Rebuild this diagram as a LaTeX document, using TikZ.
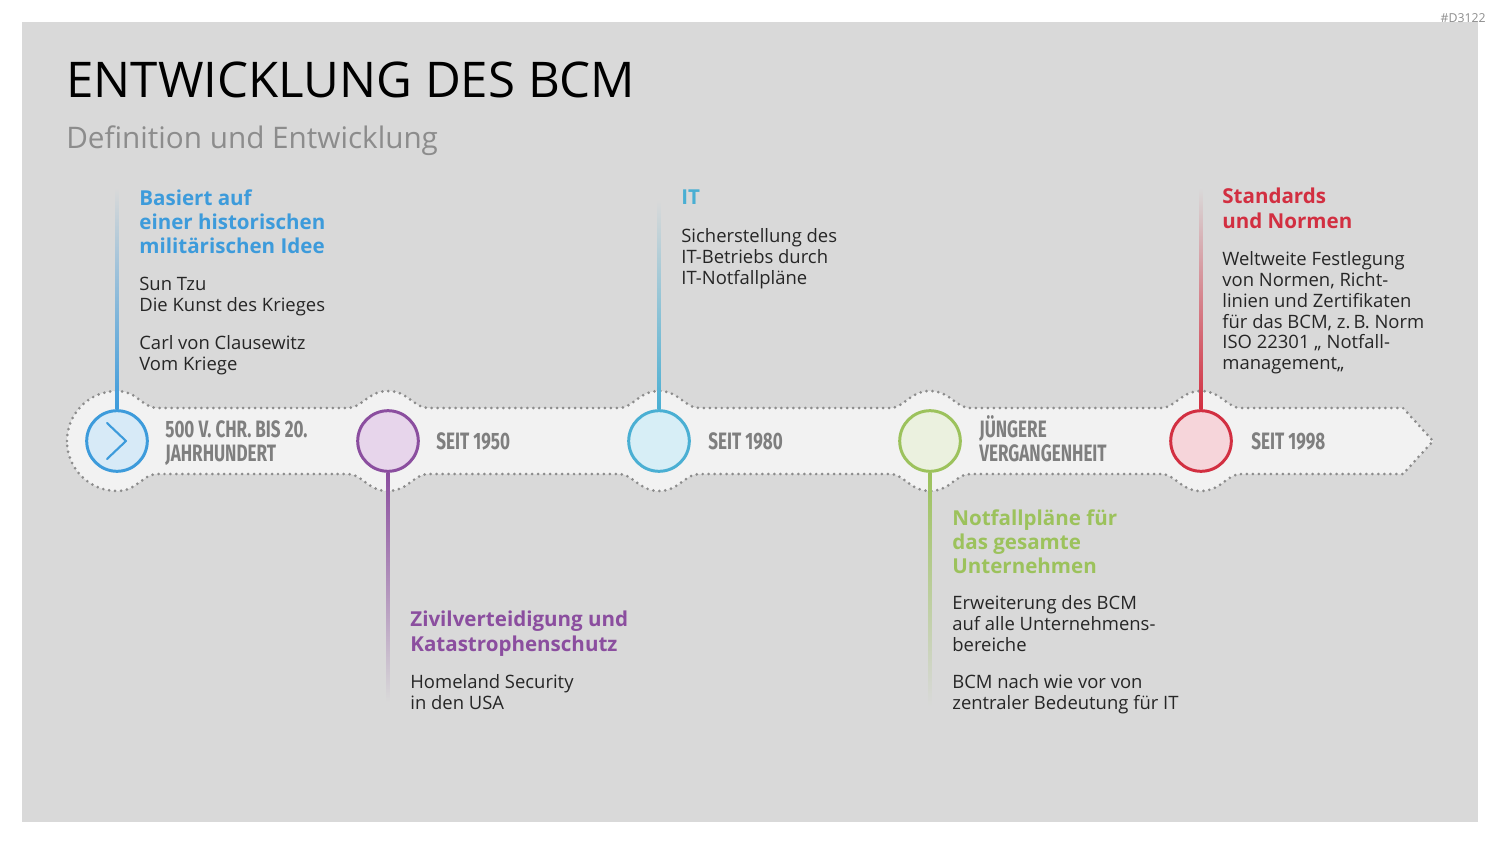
\documentclass[tikz,border=0pt]{standalone}
\usepackage{fontspec}
\setmainfont{Open Sans}
\newfontfamily\condfont[FakeStretch=0.72]{Fira Sans}
\usetikzlibrary{calc}
\definecolor{bgG}{HTML}{D9D9D9}
\definecolor{bandF}{HTML}{F2F2F2}
\definecolor{dotG}{HTML}{8C8C8C}
\definecolor{eraC}{HTML}{7F7F7F}
\definecolor{subC}{HTML}{8C8C8C}
\definecolor{bodyC}{HTML}{262626}
\definecolor{blueC}{HTML}{3D9BDB}
\definecolor{blueF}{HTML}{D7EAF7}
\definecolor{purpleC}{HTML}{8B4E9F}
\definecolor{purpleF}{HTML}{E7D5EB}
\definecolor{tealC}{HTML}{4AAFD3}
\definecolor{tealF}{HTML}{D7EEF6}
\definecolor{greenC}{HTML}{9CC25C}
\definecolor{greenF}{HTML}{EBF1DF}
\definecolor{redC}{HTML}{D22F41}
\definecolor{redF}{HTML}{F6D5DA}
\tikzset{
  body/.style={anchor=north west, inner sep=0pt, align=left, text=bodyC,
    font=\fontsize{10.5}{11.9}\selectfont},
  head/.style={anchor=north west, inner sep=0pt, align=left,
    font=\bfseries\fontsize{11.7}{13.8}\selectfont},
  era/.style={anchor=north west, inner sep=0pt, align=left, text=eraC,
    font=\condfont\bfseries\fontsize{13.5}{13.6}\selectfont},
  dotrim/.style={draw=dotG, line width=1.7pt, line cap=round, dash pattern=on 0pt off 3.4pt},
  stage/.style={circle, minimum size=34.5pt, inner sep=0pt, line width=1.7pt}
}
\begin{document}
\begin{tikzpicture}[x=0.02cm,y=-0.02cm]
\useasboundingbox (0,0) rectangle (1500,844);
\fill[bgG] (22,22) rectangle (1478,822);
\node[anchor=north east, inner sep=0pt, text=subC, font=\fontsize{7}{8}\selectfont] (tag) at (1486,13) {\#D3122};
% title
\node[anchor=north west, inner sep=0pt, font=\fontsize{28}{30}\selectfont] (title) at (66,62) {ENTWICKLUNG DES BCM};
\node[anchor=north west, inner sep=0pt, text=subC, font=\fontsize{16.9}{18}\selectfont] (subtitle) at (66,125) {Definition und Entwicklung};
% timeline band
\path[dotrim, fill=bandF]
  (67,441) .. controls (67,413.4) and (89.4,391) .. (117,391)
  .. controls (137,391) and (143,408) .. (157,408)
  \foreach \x in {388,659,930,1201} {
    -- (\x-40,408) .. controls (\x-26,408) and (\x-20,391) .. (\x,391)
    .. controls (\x+20,391) and (\x+26,408) .. (\x+40,408) }
  -- (1403,408) -- (1433,441) -- (1403,474)
  \foreach \x in {1201,930,659,388} {
    -- (\x+40,474) .. controls (\x+26,474) and (\x+20,491) .. (\x,491)
    .. controls (\x-20,491) and (\x-26,474) .. (\x-40,474) }
  -- (157,474) .. controls (143,474) and (137,491) .. (117,491)
  .. controls (89.4,491) and (67,468.6) .. (67,441) -- cycle;
% stages
\node[stage, draw=blueC, fill=blueF] (s1) at (117,441) {};
\node[stage, draw=purpleC, fill=purpleF] (s2) at (388,441) {};
\node[stage, draw=tealC, fill=tealF] (s3) at (659,441) {};
\node[stage, draw=greenC, fill=greenF] (s4) at (930,441) {};
\node[stage, draw=redC, fill=redF] (s5) at (1201,441) {};
\draw[blueC, line width=1.2pt, line cap=round, line join=round] (107,423) -- (126,441) -- (107,459);
% connectors
\coordinate (e1) at (117,188);
\coordinate (e2) at (388,702);
\coordinate (e3) at (659,200);
\coordinate (e4) at (930,706);
\coordinate (e5) at (1201,188);
\shade[top color=bgG, middle color=blueC, bottom color=blueC] ($(s1.north)+(-1.5,0)$) rectangle ($(e1)+(1.5,0)$);
\shade[top color=purpleC, middle color=purpleC, bottom color=bgG] ($(s2.south)+(-1.5,0)$) rectangle ($(e2)+(1.5,0)$);
\shade[top color=bgG, middle color=tealC, bottom color=tealC] ($(s3.north)+(-1.5,0)$) rectangle ($(e3)+(1.5,0)$);
\shade[top color=greenC, middle color=greenC, bottom color=bgG] ($(s4.south)+(-1.5,0)$) rectangle ($(e4)+(1.5,0)$);
\shade[top color=bgG, middle color=redC, bottom color=redC] ($(s5.north)+(-1.5,0)$) rectangle ($(e5)+(1.5,0)$);
% era labels
\node[era] (era1) at (165,420) {500 V. CHR. BIS 20.\\JAHRHUNDERT};
\node[era] (era2) at (436,432) {SEIT 1950};
\node[era] (era3) at (708,432) {SEIT 1980};
\node[era] (era4) at (979,415) {JÜNGERE\\VERGANGENHEIT};
\node[era] (era5) at (1251,432) {SEIT 1998};
% texts
\node[head, text=blueC] (h1) at (139,189) {Basiert auf\\einer historischen\\militärischen Idee};
\node[body] (b1a) at (139,277) {Sun Tzu\\Die Kunst des Krieges};
\node[body] (b1b) at (139,335) {Carl von Clausewitz\\Vom Kriege};
\node[head, text=purpleC] (h2) at (410,611) {Zivilverteidigung und\\Katastrophenschutz};
\node[body] (b2) at (410,674) {Homeland Security\\in den USA};
\node[head, text=tealC] (h3) at (681,189) {IT};
\node[body] (b3) at (681,228) {Sicherstellung des\\IT-Betriebs durch\\IT-Notfallpläne};
\node[head, text=greenC] (h4) at (952,509) {Notfallpläne für\\das gesamte\\Unternehmen};
\node[body] (b4a) at (952,595) {Erweiterung des BCM\\auf alle Unternehmens-\\bereiche};
\node[body] (b4b) at (952,674) {BCM nach wie vor von\\zentraler Bedeutung für IT};
\node[head, text=redC] (h5) at (1222,188) {Standards\\und Normen};
\node[body] (b5) at (1222,251) {Weltweite Festlegung\\von Normen, Richt-\\linien und Zertifikaten\\für das BCM, z.\,B. Norm\\ISO 22301 „ Notfall-\\management„};
\end{tikzpicture}
\end{document}
